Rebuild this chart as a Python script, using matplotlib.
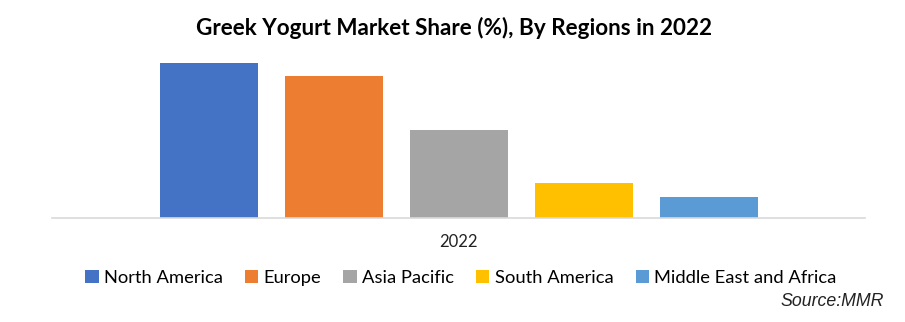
import matplotlib.pyplot as plt

# market share by region, 2022
regions = ["North America", "Europe", "Asia Pacific", "South America", "Middle East and Africa"]
shares = [35.1, 32.2, 20.0, 7.9, 4.8]
colors = ["#4472C4", "#ED7D31", "#A5A5A5", "#FFC000", "#5B9BD5"]
year_label = "2022"

plt.rcParams["font.family"] = ["Lato", "DejaVu Sans"]

fig = plt.figure(figsize=(9.05, 3.22), dpi=100)
ax = fig.add_axes([52 / 905, 104 / 322, 813 / 905, 176.6 / 322])

for i, (name, val, col) in enumerate(zip(regions, shares, colors)):
    ax.bar(i, val, width=0.784, color=col, label=name)

ax.set_xlim(-1.252, 5.252)
ax.set_ylim(0, 40)
ax.set_yticks([])
ax.set_xticks([])
for side in ["top", "right", "left"]:
    ax.spines[side].set_visible(False)
ax.spines["bottom"].set_color("#D9D9D9")
ax.spines["bottom"].set_linewidth(1.2)

fig.text(454 / 905, 1 - 28 / 322, "Greek Yogurt Market Share (%), By Regions in 2022",
         ha="center", va="center", fontsize=16.2, fontweight="bold")
fig.text(458 / 905, 1 - 242 / 322, year_label, ha="center", va="center",
         fontsize=12, color="#222222")

leg = fig.legend(loc="center", bbox_to_anchor=(461 / 905, 1 - 278 / 322), ncol=5,
                 frameon=False, fontsize=13.2, handlelength=0.72, handleheight=0.72,
                 handletextpad=0.3, columnspacing=1.2)

fig.text(884 / 905, 1 - 302 / 322, "Source:MMR", ha="right", va="center",
         fontsize=12.8, style="italic", family="Liberation Sans", color="#222222")

fig.savefig("out.png", dpi=100)
